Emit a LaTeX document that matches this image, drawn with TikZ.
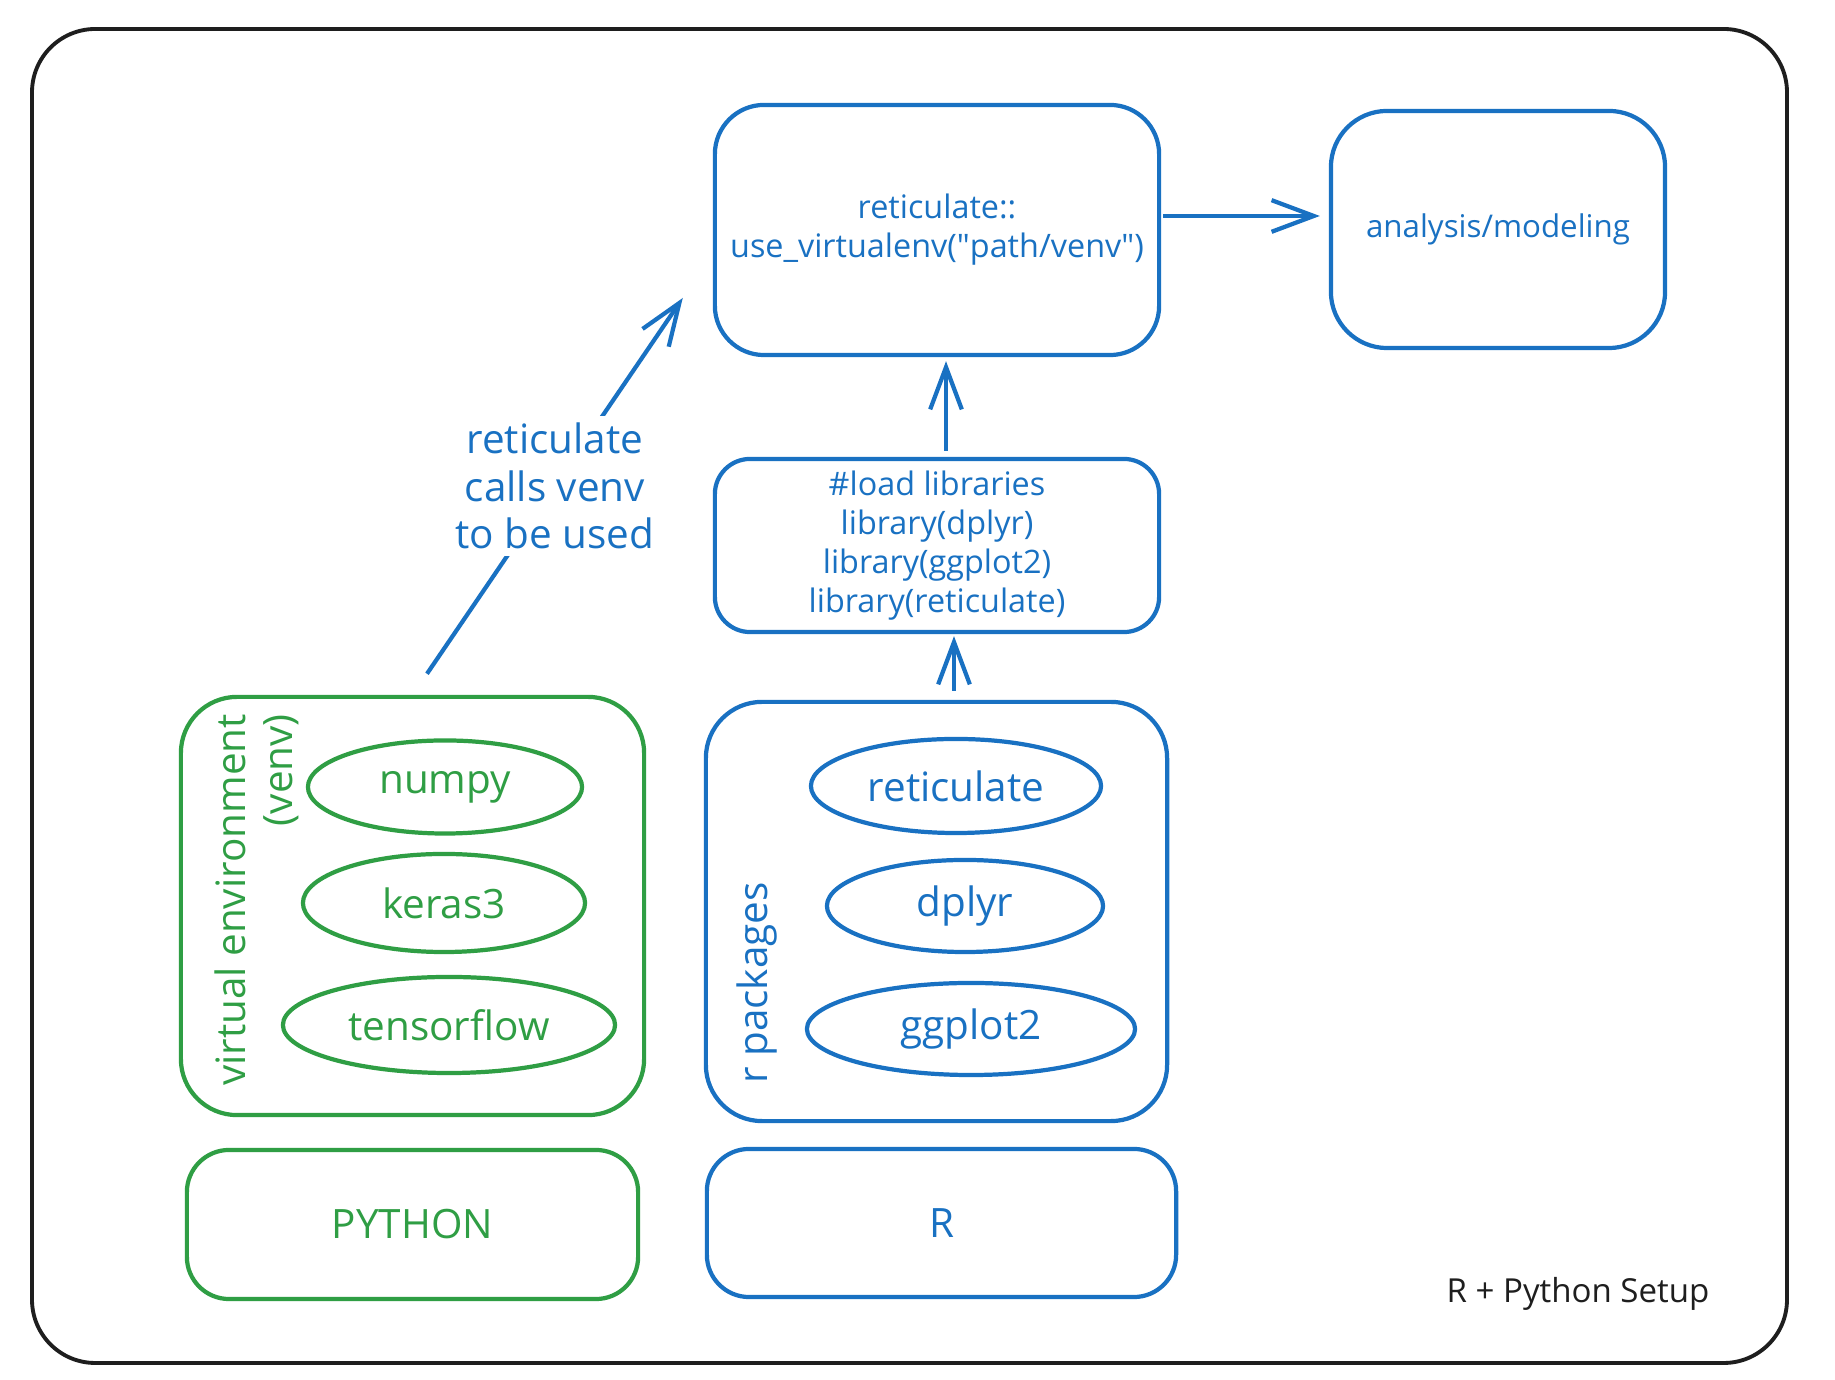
\documentclass[tikz,border=0pt]{standalone}
\usepackage{fontspec}
\setmainfont{Open Sans}
\usetikzlibrary{shapes.geometric,arrows.meta,calc}
\definecolor{xblue}{HTML}{1971C2}
\definecolor{xgreen}{HTML}{2F9E44}
\definecolor{xblack}{HTML}{1E1E1E}
\begin{document}
\begin{tikzpicture}[x=0.01cm,y=-0.01cm,
  box/.style={draw, rectangle, line width=1.2pt, rounded corners=14pt, align=center, inner sep=0pt},
  pill/.style={draw, ellipse, line width=1.2pt, inner sep=0pt},
  arr/.style={line width=1.2pt, -{Straight Barb[length=12pt,width=9pt]}},
  big/.style={font=\fontsize{11.5}{13.5}\selectfont},
  med/.style={font=\fontsize{9.2}{11.1}\selectfont},
]
\useasboundingbox (0,0) rectangle (1835,1380);
\fill[white] (0,0) rectangle (1835,1380);
\draw[xblack, line width=1.1pt, rounded corners=18pt] (32,29) rectangle (1787,1363);

% blue column
\node[box, xblue, med, minimum width=4.44cm, minimum height=2.50cm] (top) at (937,230)
  {reticulate::\\use\_virtualenv(\textquotedbl path/venv\textquotedbl)};
\node[box, xblue, font=\fontsize{8.9}{11}\selectfont, minimum width=3.34cm, minimum height=2.37cm, rounded corners=16pt] (ana) at (1498,229.5)
  {analysis/modeling};
\node[box, xblue, med, minimum width=4.44cm, minimum height=1.73cm, rounded corners=10pt] (libs) at (937,545.5)
  {\#load libraries\\library(dplyr)\\library(ggplot2)\\library(reticulate)};
\node[box, xblue, minimum width=4.61cm, minimum height=4.19cm, rounded corners=16pt] (rpk) at (936.5,911.5) {};
\node[box, xblue, big, minimum width=4.69cm, minimum height=1.48cm, rounded corners=12pt] (rbox) at (941.5,1223) {R};
\node[pill, xblue, big, minimum width=2.90cm, minimum height=0.94cm] (e1) at (956,786) {reticulate};
\node[pill, xblue, big, minimum width=2.76cm, minimum height=0.92cm] (e2) at (965,906) {dplyr};
\node[pill, xblue, big, minimum width=3.28cm, minimum height=0.92cm] (e3) at (971,1029) {ggplot2};
\node[xblue, big, rotate=90, inner sep=0pt] (rlab) at (757,983) {r packages};

% green column
\node[box, xgreen, minimum width=4.63cm, minimum height=4.18cm, rounded corners=16pt] (venv) at (412.5,906) {};
\node[box, xgreen, big, minimum width=4.51cm, minimum height=1.49cm, rounded corners=12pt] (py) at (412.5,1224.5) {PYTHON};
\node[pill, xgreen, big, minimum width=2.74cm, minimum height=0.93cm] (g1) at (445,787) {numpy};
\node[pill, xgreen, big, minimum width=2.82cm, minimum height=0.98cm] (g2) at (444,903) {keras3};
\node[pill, xgreen, big, minimum width=3.32cm, minimum height=0.96cm] (g3) at (449,1025) {tensorflow};
\node[xgreen, big, rotate=90, align=right, inner sep=0pt] (vlab) at (257,900) {virtual environment\\(venv)};

% arrows
\draw[arr, xblue] ($(venv.north)+(14.5,-21)$) -- node[fill=white, big, align=center, text=xblue, inner sep=2pt] (lab) {reticulate\\calls venv\\to be used} ($(top.west)+(-30,68)$);
\draw[arr, xblue] ($(libs.north)+(9,-6)$) -- ($(top.south)+(9,4)$);
\draw[arr, xblue] ($(rpk.north)+(17.5,-9)$) -- ($(libs.south)+(17,2)$);
\draw[arr, xblue] ($(top.east)+(2,-14)$) -- ($(ana.west)+(-9,-13.5)$);

\node[xblack, font=\fontsize{9.4}{11}\selectfont] (title) at (1578,1294) {R + Python Setup};
\end{tikzpicture}
\end{document}
